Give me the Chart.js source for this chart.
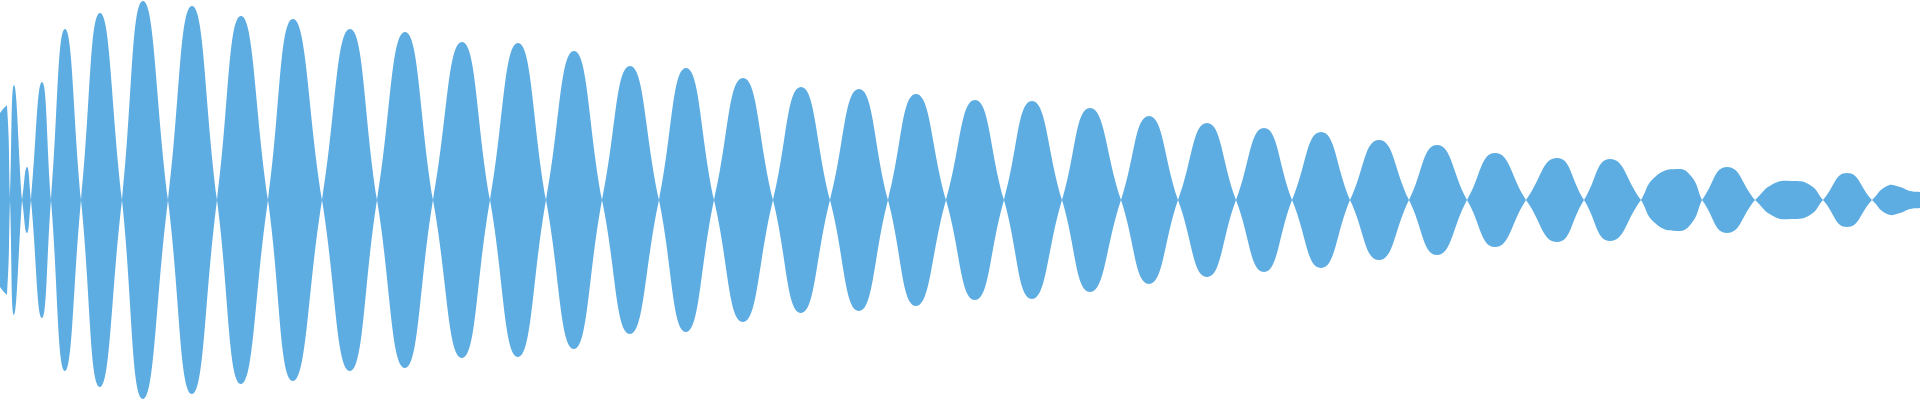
<!DOCTYPE html>
<html>
<head>
<meta charset="utf-8">
<script src="https://cdn.jsdelivr.net/npm/chart.js@4"></script>
<style>
  html, body { margin: 0; padding: 0; background: #fff; }
  #wrap { width: 1920px; height: 400px; }
</style>
</head>
<body>
<div id="wrap"><canvas id="wave"></canvas></div>
<script>
// envelope key points: sample position and amplitude (0 = crossing)
const positions = [
    0, 4, 7, 10, 14, 22, 27, 31, 42, 51, 65, 81, 100, 122, 143, 168,
    192, 217, 241, 268, 293, 322, 350, 377, 405, 433, 462, 490, 518, 546,
    574, 602, 630, 659, 686, 714, 743, 773, 801, 830, 859, 888, 916, 946,
    975, 1004, 1032, 1062, 1090, 1121, 1149, 1178, 1207, 1236, 1264, 1292,
    1321, 1350, 1379, 1409, 1437, 1467, 1495, 1526, 1557, 1584, 1610, 1641,
    1655, 1677, 1691, 1702, 1727, 1755, 1773, 1792, 1810, 1823, 1847, 1872,
    1887, 1900, 1910, 1920
];
const amplitudes = [
    87, 92, 94, 0, 115, 0, 33, 0, 118, 0, 171, 0, 187, 0, 199, 0,
    194, 0, 184, 0, 181, 0, 171, 0, 168, 0, 158, 0, 157, 0,
    149, 0, 134, 0, 132, 0, 122, 0, 113, 0, 111, 0, 106, 0,
    100, 0, 99, 0, 92, 0, 84, 0, 77, 0, 72, 0,
    68, 0, 60, 0, 55, 0, 47, 0, 42, 0, 41, 0,
    23, 31, 24, 0, 33, 0, 16, 19, 15, 0, 27, 0,
    14, 13, 9, 8
];

const waveColor = '#5dade2';

// crossings get doubled so the curve keeps a sharp point there
const upper = [];
positions.forEach((p, i) => {
    upper.push({ x: p, y: amplitudes[i] });
    if (amplitudes[i] === 0) upper.push({ x: p, y: 0 });
});
const lower = upper.map(pt => ({ x: pt.x, y: -pt.y }));

const config = {
    type: 'line',
    data: {
        datasets: [{
                data: upper,
                borderWidth: 0,
                pointRadius: 0,
                tension: 0.5,
                fill: false,
                backgroundColor: waveColor,
            },
            {
                data: lower,
                borderWidth: 0,
                pointRadius: 0,
                tension: 0.5,
                fill: '-1',
                backgroundColor: waveColor,
            }
        ]
    },
    options: {
        responsive: true,
        maintainAspectRatio: false,
        animation: false,
        layout: { padding: 0 },
        plugins: {
            legend: { display: false },
            tooltip: { enabled: false }
        },
        scales: {
            x: { type: 'linear', min: 0, max: 1920, display: false },
            y: { min: -200, max: 200, display: false }
        }
    }
};

const myChart = new Chart(document.getElementById('wave'), config);
</script>
</body>
</html>
